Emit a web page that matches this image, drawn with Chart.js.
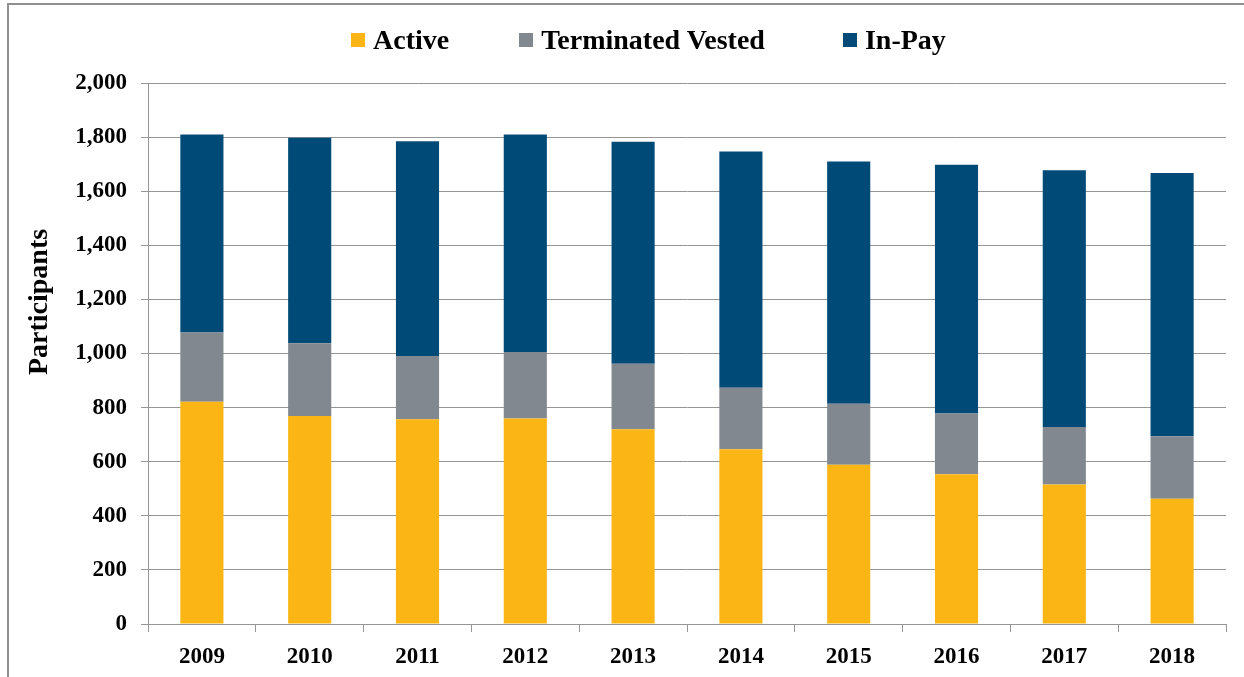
<!DOCTYPE html>
<html>
<head>
<meta charset="utf-8">
<title>Participants</title>
<script src="https://cdn.jsdelivr.net/npm/chart.js@4/dist/chart.umd.min.js"></script>
<style>
  body { margin: 0; background: #fff; }
  .wrap { position: relative; width: 1244px; height: 677px; overflow: hidden; }
  .frame {
    position: absolute; left: 7px; top: 3px; width: 1300px; height: 700px;
    border-left: 2px solid #8f8f8f; border-top: 2px solid #8f8f8f;
  }
  canvas { position: absolute; left: 0; top: 0; }
  .legend {
    position: absolute; left: 351px; top: 24px; display: flex; align-items: center;
    font: bold 28px "Liberation Serif", "Times New Roman", serif; color: #000;
  }
  .legend-item { display: flex; align-items: center; margin-right: 70px; }
  .legend-item:nth-child(2) { margin-right: 78px; }
  .legend-dot { width: 14px; height: 14px; margin-right: 8px; }
</style>
</head>
<body>
<div class="wrap">
  <div class="frame"></div>
  <canvas id="chart" width="1244" height="677"></canvas>
  <div class="legend" id="legend"></div>
</div>
<script>
// ── DATA ───────────────────────────────────────────────────────────────
const YEARS = ['2009','2010','2011','2012','2013','2014','2015','2016','2017','2018'];
const ACTIVE            = [822, 769, 757, 760, 720, 646, 589, 554, 516, 463];
const TERMINATED_VESTED = [256, 269, 234, 246, 242, 227, 225, 224, 212, 231];
const IN_PAY            = [732, 760, 794, 804, 821, 874, 896, 920, 949, 973];
const Y_MIN = 0, Y_MAX = 2000, Y_STEP = 200;

const SERIES = [
  { label: 'Active',            data: ACTIVE,            color: '#fbb616' },
  { label: 'Terminated Vested', data: TERMINATED_VESTED, color: '#82888f' },
  { label: 'In-Pay',            data: IN_PAY,            color: '#004a78' },
];

const FONT = '"Liberation Serif", "Times New Roman", serif';
const GRID = '#959595';

// ── LEGEND (html) ──────────────────────────────────────────────────────
document.getElementById('legend').innerHTML = SERIES.map(s => `
  <div class="legend-item">
    <span class="legend-dot" style="background:${s.color}"></span>
    <span>${s.label}</span>
  </div>
`).join('');

// ── Y TITLE ────────────────────────────────────────────────────────────
const yTitle = {
  id: 'yTitle',
  afterDraw(chart) {
    const ctx = chart.ctx;
    ctx.save();
    ctx.translate(40, 302);
    ctx.rotate(-Math.PI / 2);
    ctx.font = `bold 28px ${FONT}`;
    ctx.fillStyle = '#000';
    ctx.textAlign = 'center';
    ctx.textBaseline = 'middle';
    ctx.fillText('Participants', 0, 0);
    ctx.restore();
  }
};

// ── CHART ──────────────────────────────────────────────────────────────
new Chart(document.getElementById('chart'), {
  type: 'bar',
  data: {
    labels: YEARS,
    datasets: SERIES.map(s => ({
      label: s.label,
      data: s.data,
      backgroundColor: s.color,
      borderWidth: 0,
      barPercentage: 0.4,
      categoryPercentage: 1.0,
    }))
  },
  options: {
    responsive: false,
    animation: false,
    layout: { padding: { top: 83, right: 18, left: 0, bottom: 0 } },
    plugins: { legend: { display: false }, tooltip: { enabled: false } },
    scales: {
      x: {
        stacked: true,
        grid: { offset: true, drawOnChartArea: false, drawTicks: true, tickLength: 8, color: GRID },
        border: { display: true, color: GRID },
        ticks: { color: '#000', padding: 11, font: { family: FONT, size: 23, weight: 'bold' } },
        afterFit: s => { s.height = 53; }
      },
      y: {
        stacked: true,
        min: Y_MIN,
        max: Y_MAX,
        grid: { color: GRID, tickLength: 7 },
        border: { display: true, color: GRID },
        ticks: {
          stepSize: Y_STEP,
          color: '#000',
          padding: 14,
          font: { family: FONT, size: 23, weight: 'bold' },
          callback: v => v.toLocaleString('en-US')
        },
        afterFit: s => { s.width = 148; }
      }
    }
  },
  plugins: [yTitle]
});
</script>
</body>
</html>
